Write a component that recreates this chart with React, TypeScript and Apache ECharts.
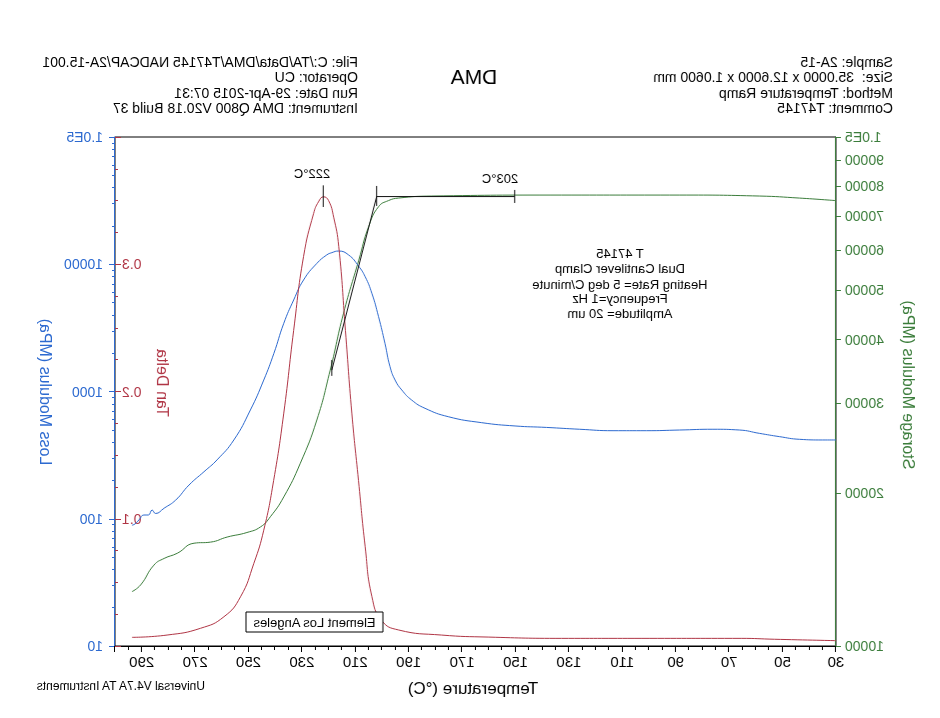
import React, { useEffect, useRef } from "react";
import * as echarts from "echarts";

// ---- Data (temperature in °C, moduli in MPa) ----
const lossTemps = [30, 35, 43.7, 51.2, 58.7, 66.1, 76.1, 88.6, 101, 113.5, 126, 138.4, 150.2, 162.7, 175.2, 183.9, 188.9, 192.6, 195.1, 197, 198.9, 201.3, 203.8, 206.3, 208.8, 212.5, 216.3, 218.8, 220.7, 224.4, 229.4, 233.1, 236.8, 240.5, 244.3, 249.3, 255.5, 261.8, 266.7, 272.3, 277.3, 281.6, 284.8, 286.1, 287.5, 289.2, 291, 292.5, 293.6];
const lossModulus = [416, 416, 421, 442, 469, 498, 505, 498, 492, 492, 505, 522, 536, 569, 634, 738, 857, 1028, 1230, 1567, 2393, 3873, 5916, 7980, 9683, 11830, 12700, 12330, 11830, 10160, 7516, 5236, 3436, 1995, 1230, 716, 416, 290, 234, 184, 140, 121, 110, 117, 107, 107, 98, 91, 89];

const storageTemps = [30, 43.7, 58.6, 88.5, 132.8, 181.4, 193.8, 197.6, 201.3, 205, 208.7, 214.4, 219.4, 224.4, 230.6, 236.8, 241.8, 245.5, 250.6, 258, 264.2, 270.4, 276.7, 281.6, 285.4, 290.4, 293.6];
const storageModulus = [74990, 75860, 76560, 76900, 76900, 76560, 75860, 74990, 72950, 66680, 57280, 45080, 34830, 27800, 22860, 19630, 17950, 17140, 16710, 16370, 16000, 15920, 15210, 14860, 14420, 13180, 12790];

const tanTemps = [30, 53, 65.5, 103, 132.8, 160, 177.7, 193.8, 200.1, 203.8, 206.3, 208.8, 211.3, 213.7, 216.2, 218.1, 220, 221.9, 223.8, 225.6, 229.4, 233.1, 236.8, 240.6, 244.3, 248, 253, 259.2, 268, 280.5, 293.6];
const tanDelta = [0.0042, 0.0053, 0.006, 0.006, 0.006, 0.007, 0.0086, 0.0126, 0.02, 0.039, 0.078, 0.13, 0.183, 0.248, 0.314, 0.337, 0.35, 0.353, 0.349, 0.34, 0.306, 0.248, 0.183, 0.13, 0.091, 0.065, 0.0387, 0.023, 0.0139, 0.0086, 0.0068];

// Onset construction on storage modulus (T, MPa)
const onsetTemps = [218.8, 202, 150.3];
const onsetModulus = [34830, 76380, 76380];
// Small vertical marks: [T, MPa low, MPa high]
const storageMarks = [
  [202, 73200, 80130],
  [150.3, 74200, 78700],
  [218.8, 33940, 36470],
];
// Peak mark on tan delta: [T, low, high]
const tanPeakMark = [222, 0.345, 0.362];

const lossMajor = [1, 2, 3, 4, 5];
const storageTickValues = [10000, 20000, 30000, 40000, 50000, 60000, 70000, 80000, 90000, 100000];

const headerLeft = ["Sample: 2A-15", "Size:  35.0000 x 12.6000 x 1.0600 mm", "Method: Temperature Ramp", "Comment: T47145"];
const headerRight = ["File: C:/TA/Data/DMA/T47145 NADCAP/2A-15.001", "Operator: CU", "Run Date: 29-Apr-2015 07:31", "Instrument: DMA Q800 V20.18 Build 37"];
const infoLines = ["T 47145", "Dual Cantilever Clamp", "Heating Rate= 5 deg C/minute", "Frequency=1 Hz", "Amplitude= 20 um"];

const BLUE = "#2d6ad0";
const GREEN = "#3b7d3b";
const RED = "#b03545";
const FONT = "Liberation Sans, Arial, sans-serif";

export default function App() {
  const ref = useRef<HTMLDivElement>(null);
  useEffect(() => {
    if (!ref.current) return;
    const chart = echarts.init(ref.current, undefined, { renderer: "svg" });
    const lg = (v: number) => Math.log10(v);
    const lossMinor: number[] = [];
    for (let d = 1; d < 5; d++) for (let k = 2; k <= 9; k++) lossMinor.push(d + Math.log10(k));
    const storageLog = storageTickValues.map(lg);

    const series: any[] = [
      {
        type: "line", xAxisIndex: 0, yAxisIndex: 2, showSymbol: false, smooth: 0.5,
        lineStyle: { color: GREEN, width: 1 }, data: storageTemps.map((t, i) => [t, lg(storageModulus[i])]), z: 3,
      },
      {
        type: "line", xAxisIndex: 0, yAxisIndex: 0, showSymbol: false, smooth: 0.5,
        lineStyle: { color: BLUE, width: 1 }, data: lossTemps.map((t, i) => [t, lg(lossModulus[i])]), z: 3,
      },
      {
        type: "line", xAxisIndex: 0, yAxisIndex: 3, showSymbol: false, smooth: 0.5,
        lineStyle: { color: RED, width: 1 }, data: tanTemps.map((t, i) => [t, tanDelta[i]]), z: 3,
      },
      {
        type: "line", xAxisIndex: 0, yAxisIndex: 2, showSymbol: false,
        lineStyle: { color: "#111", width: 1 }, data: onsetTemps.map((t, i) => [t, lg(onsetModulus[i])]), z: 4,
      },
      ...storageMarks.map((m) => ({
        type: "line", xAxisIndex: 0, yAxisIndex: 2, showSymbol: false,
        lineStyle: { color: "#111", width: 1 }, data: [[m[0], lg(m[1])], [m[0], lg(m[2])]], z: 4,
      })),
      {
        type: "line", xAxisIndex: 0, yAxisIndex: 3, showSymbol: false,
        lineStyle: { color: "#111", width: 1 }, data: [[tanPeakMark[0], tanPeakMark[1]], [tanPeakMark[0], tanPeakMark[2]]], z: 4,
      },
    ];

    const txt = (text: string, x: number, y: number, o: any = {}) => ({
      type: "text", x, y, rotation: o.rotation || 0,
      style: {
        text, fill: o.fill || "#000", font: `${o.size || 13}px ${FONT}`,
        align: o.align || "left", verticalAlign: "middle",
      },
      z: 10,
    });

    const graphic: any[] = [
      ...headerLeft.map((s, i) => txt(s, 47, [62, 77, 93, 108][i], { size: 14 })),
      ...headerRight.map((s, i) => txt(s, 582, [62, 77, 93, 108][i], { size: 14 })),
      txt("DMA", 466, 76, { size: 21, align: "center" }),
      ...infoLines.map((s, i) => txt(s, 320, [253, 268, 284, 298, 313][i], { align: "center" })),
      txt("222°C", 628, 173, { align: "center" }),
      txt("203°C", 440, 178, { align: "center" }),
      {
        type: "rect", shape: { x: 557, y: 612, width: 137, height: 20 },
        style: { fill: "#fff", stroke: "#000", lineWidth: 1 }, z: 9,
      },
      txt("Element Los Angeles", 625.5, 622.5, { align: "center" }),
      txt("Temperature (°C)", 467, 688, { size: 17, align: "center" }),
      txt("Universal V4.7A TA Instruments", 735, 686, { size: 12 }),
      txt("Storage Modulus (MPa)", 31, 385, { size: 16, align: "center", fill: GREEN, rotation: Math.PI / 2 }),
      txt("Loss Modulus (MPa)", 894, 392, { size: 16, align: "center", fill: BLUE, rotation: Math.PI / 2 }),
      txt("Tan Delta", 777, 383, { size: 16, align: "center", fill: RED, rotation: Math.PI / 2 }),
    ];

    chart.setOption({
      animation: false,
      backgroundColor: "#fff",
      textStyle: { fontFamily: FONT },
      grid: { left: 104, right: 115, top: 137, bottom: 72, show: true, borderColor: "#000", borderWidth: 1, backgroundColor: "transparent" },
      xAxis: [{
        type: "value", min: 30, max: 300, interval: 20,
        axisLine: { show: true, lineStyle: { color: "#000", width: 1 } },
        axisTick: { show: true, length: 6, lineStyle: { color: "#000" } },
        minorTick: { show: true, splitNumber: 4, length: 4, lineStyle: { color: "#000" } },
        axisLabel: { color: "#000", fontSize: 15, margin: 8, showMaxLabel: false },
        splitLine: { show: false },
      }],
      yAxis: [
        {
          type: "value", min: 1, max: 5, position: "right",
          axisLine: { show: true, lineStyle: { color: BLUE, width: 1 } },
          axisTick: { show: true, length: 6, customValues: lossMajor, lineStyle: { color: BLUE } },
          axisLabel: {
            show: true, customValues: lossMajor, color: BLUE, fontSize: 14, margin: 12,
            formatter: (v: number) => (v >= 4.999 ? "1.0E5" : String(Math.round(Math.pow(10, v)))),
          },
          splitLine: { show: false },
        },
        {
          type: "value", min: 1, max: 5, position: "right",
          axisLine: { show: false },
          axisTick: { show: true, length: 3, customValues: lossMinor, lineStyle: { color: BLUE } },
          axisLabel: { show: false },
          splitLine: { show: false },
        },
        {
          type: "value", min: 4, max: 5, position: "left",
          axisLine: { show: true, lineStyle: { color: GREEN, width: 1 } },
          axisTick: { show: true, length: 5, customValues: storageLog, lineStyle: { color: GREEN } },
          axisLabel: {
            show: true, customValues: storageLog, color: GREEN, fontSize: 14, margin: 9,
            formatter: (v: number) => (v >= 4.999 ? "1.0E5" : String(Math.round(Math.pow(10, v) / 10000) * 10000)),
          },
          splitLine: { show: false },
        },
        {
          type: "value", min: 0, max: 0.4, interval: 0.1, position: "right",
          axisLine: { show: false },
          axisTick: { show: true, inside: true, length: 6, lineStyle: { color: RED } },
          minorTick: { show: true, splitNumber: 4, length: 3, lineStyle: { color: RED } },
          axisLabel: { show: true, inside: true, color: RED, fontSize: 14, margin: 7, showMinLabel: false, showMaxLabel: false, formatter: (v: number) => v.toFixed(1) },
          splitLine: { show: false },
        },
      ],
      series,
      graphic,
    });
    return () => chart.dispose();
  }, []);
  return (
    <div
      ref={ref}
      style={{ position: "fixed", left: 0, top: 0, width: 940, height: 718, transform: "scaleX(-1)", background: "#fff" }}
    />
  );
}
